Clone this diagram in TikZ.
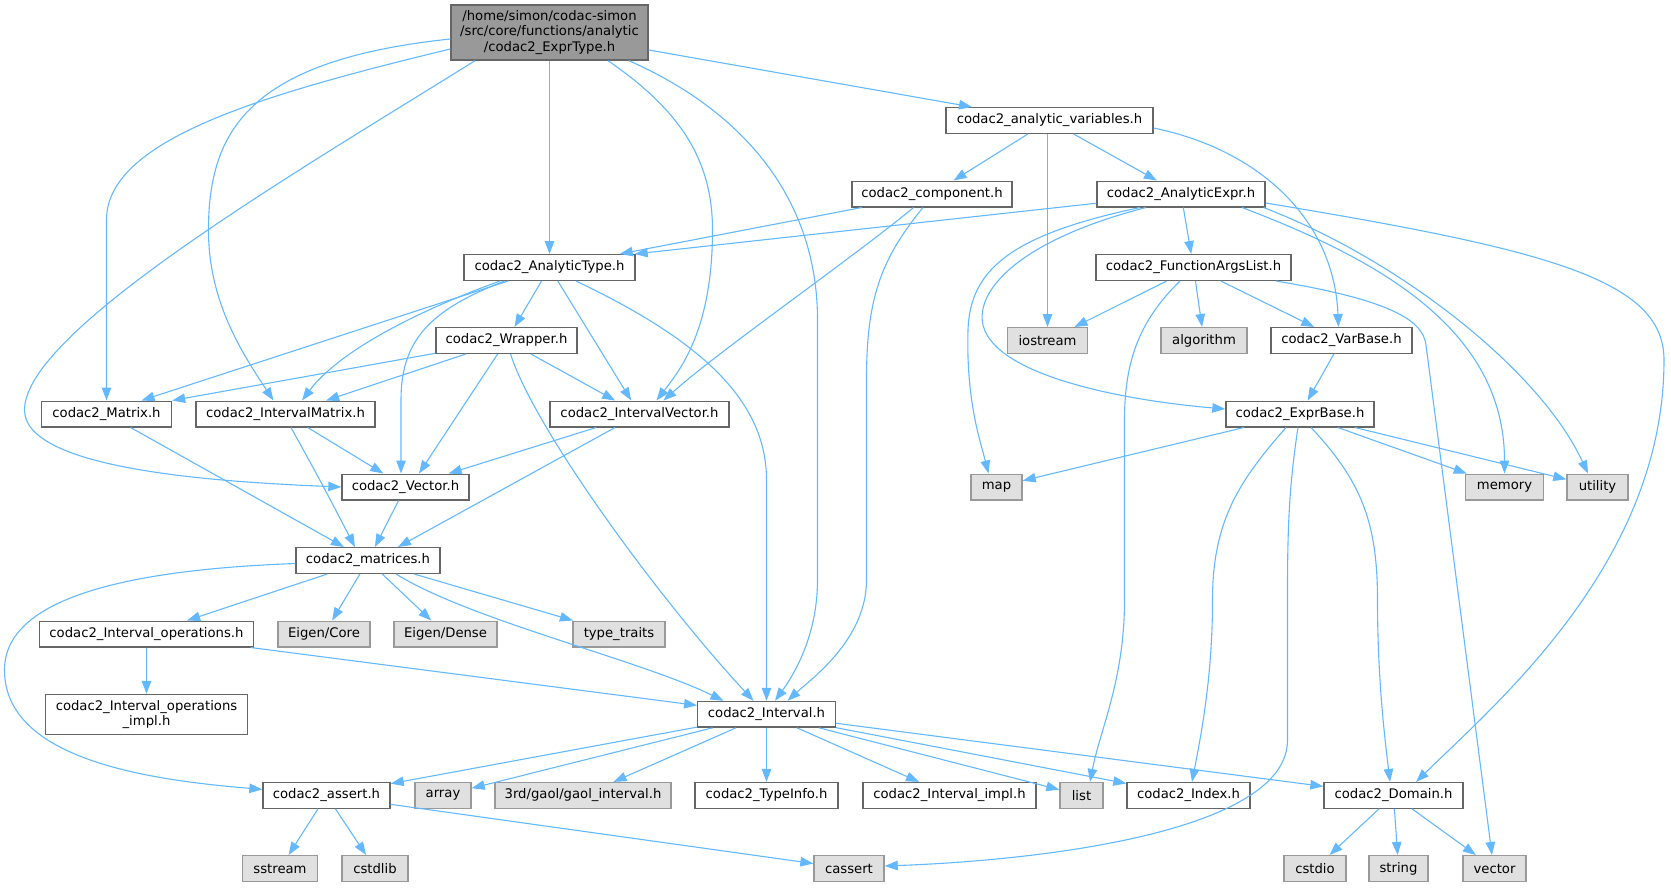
\documentclass[tikz,border=0pt]{standalone}
\usepackage{fontspec}
\setmainfont{DejaVu Sans}
\usetikzlibrary{arrows.meta,calc}
\definecolor{edgeblue}{HTML}{63B8FF}
\definecolor{bordA}{HTML}{666666}
\definecolor{bordB}{HTML}{999999}
\definecolor{fillB}{HTML}{E0E0E0}
\definecolor{rootfill}{HTML}{999999}
\tikzset{
  nd/.style={draw=bordA, fill=white, line width=1.4pt, minimum height=25.6pt, inner sep=0pt,
    font=\fontsize{13.2pt}{15.3pt}\selectfont, text=black},
  ext/.style={nd, draw=bordB, fill=fillB},
  conn/.style={draw=edgeblue, line width=1.1pt, -{Triangle[length=13pt,width=9.5pt]}},
}
\begin{document}
\begin{tikzpicture}[x=1pt,y=-1pt]
\useasboundingbox (0,0) rectangle (1671,887);
% nodes
\node[nd, fill=rootfill, minimum width=197pt, minimum height=55pt, align=center] (root) at (549.5,32.5)
  {/home/simon/codac-simon\\/src/core/functions/analytic\\/codac2\_ExprType.h};
\node[nd, minimum width=207pt] (avars) at (1049.5,120.5) {codac2\_analytic\_variables.h};
\node[nd, minimum width=160pt] (comp) at (932,194) {codac2\_component.h};
\node[nd, minimum width=168pt] (aexpr) at (1181,194) {codac2\_AnalyticExpr.h};
\node[nd, minimum width=171pt] (atype) at (549.5,267.5) {codac2\_AnalyticType.h};
\node[nd, minimum width=195pt] (fargs) at (1193.5,267.5) {codac2\_FunctionArgsList.h};
\node[nd, minimum width=141pt] (wrapper) at (506.5,340.5) {codac2\_Wrapper.h};
\node[ext, minimum width=80pt] (iostream) at (1047.5,340.5) {iostream};
\node[ext, minimum width=86pt] (algorithm) at (1204,340.5) {algorithm};
\node[nd, minimum width=141pt] (varbase) at (1341.5,340.5) {codac2\_VarBase.h};
\node[nd, minimum width=130pt] (matrix) at (106.5,414) {codac2\_Matrix.h};
\node[nd, minimum width=179pt] (imatrix) at (285.5,414) {codac2\_IntervalMatrix.h};
\node[nd, minimum width=179pt] (ivector) at (639.5,414) {codac2\_IntervalVector.h};
\node[nd, minimum width=148pt] (exprbase) at (1300,414) {codac2\_ExprBase.h};
\node[nd, minimum width=127pt] (vech) at (405.5,487) {codac2\_Vector.h};
\node[ext, minimum width=51pt] (map) at (996.5,487) {map};
\node[ext, minimum width=78pt] (memory) at (1504.5,487) {memory};
\node[ext, minimum width=61pt] (utility) at (1597.5,487) {utility};
\node[nd, minimum width=144pt] (matrices) at (368,560.5) {codac2\_matrices.h};
\node[nd, minimum width=214pt] (iops) at (146.5,634) {codac2\_Interval\_operations.h};
\node[ext, minimum width=92pt] (ecore) at (324,634) {Eigen/Core};
\node[ext, minimum width=103pt] (edense) at (445.5,634) {Eigen/Dense};
\node[ext, minimum width=92pt] (ttraits) at (619,634) {type\_traits};
\node[nd, minimum width=202pt, minimum height=40pt, align=center] (iopsimpl) at (146.5,714.5)
  {codac2\_Interval\_operations\\\_impl.h};
\node[nd, minimum width=137.5pt] (interval) at (766.5,714.3) {codac2\_Interval.h};
\node[nd, minimum width=127pt] (assert) at (326.5,795.4) {codac2\_assert.h};
\node[ext, minimum width=56pt] (array) at (443,795.4) {array};
\node[ext, minimum width=176pt] (gaol) at (583,795.4) {3rd/gaol/gaol\_interval.h};
\node[nd, minimum width=143pt] (typeinfo) at (766.5,795.4) {codac2\_TypeInfo.h};
\node[nd, minimum width=173pt] (iimpl) at (949.5,795.4) {codac2\_Interval\_impl.h};
\node[ext, minimum width=43pt] (list) at (1081.5,795.4) {list};
\node[nd, minimum width=123pt] (index) at (1188.5,795.4) {codac2\_Index.h};
\node[nd, minimum width=139pt] (domain) at (1393.5,795.4) {codac2\_Domain.h};
\node[ext, minimum width=75pt] (sstream) at (280,868.5) {sstream};
\node[ext, minimum width=66pt] (cstdlib) at (375,868.5) {cstdlib};
\node[ext, minimum width=70pt] (cassert) at (849,868.5) {cassert};
\node[ext, minimum width=62pt] (cstdio) at (1315,868.5) {cstdio};
\node[ext, minimum width=59pt] (string) at (1398.5,868.5) {string};
\node[ext, minimum width=63pt] (vector) at (1494.5,868.5) {vector};
% root edges
\draw[conn] (root) -- ($(avars.north)+(-77.5,0)$);
\draw[conn] (root) -- (atype);
\draw[conn] ($(root.west)+(0,16.5)$) .. controls (260,95) and (106.5,140) .. (106.5,220) -- (matrix);
\draw[conn] ($(root.west)+(0,6.5)$) .. controls (250,60) and (208.5,130) .. (208.5,230) .. controls (208.5,300) and (240,350) .. ($(imatrix.north)+(-12,0)$);
\draw[conn] ($(root.south)+(-74.5,0)$) .. controls (300,170) and (24.5,330) .. (24.5,410) .. controls (24.5,470) and (220,482) .. (vech.west);
\draw[conn] ($(root.south)+(58.5,0)$) .. controls (680,110) and (712.5,160) .. (712.5,230) .. controls (712.5,330) and (680,370) .. ($(ivector.north)+(17,0)$);
\draw[conn] ($(root.south)+(79.5,0)$) .. controls (745,112) and (817.5,200) .. (817.5,320) -- (817.5,580) .. controls (817.5,640) and (790,680) .. ($(interval.north)+(8.5,0)$);
% analytic variables
\draw[conn] (avars) -- (comp);
\draw[conn] (avars) -- (aexpr);
\draw[conn] (avars.south -| iostream.north) -- (iostream.north);
\draw[conn] ($(avars.east)+(0,7.5)$) .. controls (1260,150) and (1334,220) .. ($(varbase.north)+(-3,0)$);
% component
\draw[conn] (comp) -- (atype);
\draw[conn] ($(comp.south)+(-18.4,0)$) .. controls (850,260) and (720,350) .. ($(ivector.north)+(24,0)$);
\draw[conn] ($(comp.south)+(-9,0)$) .. controls (880,260) and (866.5,300) .. (866.5,380) -- (866.5,580) .. controls (866.5,640) and (810,680) .. ($(interval.north)+(21,0)$);
% analytic expr
\draw[conn] (aexpr) -- ($(atype.north east)+(-1,0)$);
\draw[conn] (aexpr) -- (fargs);
\draw[conn] ($(aexpr.south)+(-41,0)$) .. controls (1010,235) and (970,270) .. (968,330) .. controls (966,400) and (980,440) .. ($(map.north)+(-8,0)$);
\draw[conn] ($(aexpr.south)+(-35,0)$) .. controls (1020,240) and (975,290) .. (983,325) .. controls (995,375) and (1120,400) .. ($(exprbase.west)+(0,-5)$);
\draw[conn] ($(aexpr.south)+(61,0)$) .. controls (1380,260) and (1504.5,330) .. (memory.north);
\draw[conn] ($(aexpr.south)+(82.5,0)$) .. controls (1400,260) and (1540,370) .. ($(utility.north)+(-9.5,0)$);
\draw[conn] ($(aexpr.east)+(0,9)$) .. controls (1550,250) and (1664,280) .. (1664,360) .. controls (1664,560) and (1500,700) .. ($(domain.north)+(22.5,0)$);
% analytic type
\draw[conn] (atype) -- (wrapper);
\draw[conn] (atype) -- ($(matrix.north)+(35,0)$);
\draw[conn] ($(atype.south)+(-49.5,0)$) .. controls (420,310) and (340,350) .. ($(imatrix.north)+(16.5,0)$);
\draw[conn] ($(atype.south)+(-45,0)$) .. controls (430,310) and (401,340) .. (401,400) -- ($(vech.north)+(-4.5,0)$);
\draw[conn] (atype) -- (ivector);
\draw[conn] ($(atype.south)+(26.5,0)$) .. controls (700,340) and (766.5,400) .. (766.5,480) -- (interval);
% wrapper
\draw[conn] (wrapper) -- (matrix.north east);
\draw[conn] (wrapper) -- (imatrix);
\draw[conn] (wrapper) -- ($(vech.north)+(13.5,0)$);
\draw[conn] (wrapper) -- (ivector);
\draw[conn] ($(wrapper.south)+(4,0)$) .. controls (535,430) and (660,600) .. ($(interval.north)+(-13,0)$);
% varbase
\draw[conn] (varbase) -- (exprbase);
% matrix level
\draw[conn] (matrix) -- (matrices);
\draw[conn] (imatrix) -- (vech);
\draw[conn] ($(imatrix.south)+(5.5,0)$) .. controls (320,480) .. ($(matrices.north)+(-13,0)$);
\draw[conn] (ivector) -- (vech);
\draw[conn] (ivector) -- ($(matrices.north)+(30,0)$);
\draw[conn] (vech) -- (matrices);
% function args list
\draw[conn] (fargs) -- (iostream);
\draw[conn] (fargs) -- (algorithm);
\draw[conn] (fargs) -- (varbase);
\draw[conn] ($(fargs.south)+(-13.5,0)$) .. controls (1140,320) and (1124.5,360) .. (1124.5,420) -- (1124.5,600) .. controls (1124.5,680) and (1100,730) .. ($(list.north)+(8.5,0)$);
\draw[conn] ($(fargs.south)+(82.5,0)$) .. controls (1390,300) and (1423,320) .. (1426,345) -- ($(vector.north)+(-2.5,0)$);
% expr base
\draw[conn] (exprbase) -- (map);
\draw[conn] (exprbase) -- (memory);
\draw[conn] (exprbase) -- (utility);
\draw[conn] ($(exprbase.south)+(-14,0)$) .. controls (1240,480) and (1212.5,520) .. (1212.5,600) .. controls (1212.5,680) and (1200,740) .. ($(index.north)+(3.5,0)$);
\draw[conn] ($(exprbase.south)+(-2,0)$) .. controls (1290,480) and (1287.5,520) .. (1287.5,590) -- (1287.5,740) .. controls (1287.5,830) and (1050,860) .. ($(cassert.east)+(0,-2.5)$);
\draw[conn] ($(exprbase.south)+(11,0)$) .. controls (1360,480) and (1377.5,520) .. (1377.5,600) .. controls (1377.5,680) and (1385,740) .. ($(domain.north)+(-3.5,0)$);
% matrices
\draw[conn] (matrices) -- (iops);
\draw[conn] (matrices) -- (ecore);
\draw[conn] (matrices) -- (edense);
\draw[conn] (matrices) -- (ttraits);
\draw[conn] ($(matrices.south)+(28,0)$) .. controls (470,620) and (640,660) .. ($(interval.north)+(-43,0)$);
\draw[conn] ($(matrices.west)+(0,3)$) .. controls (120,570) and (4.5,600) .. (4.5,670) .. controls (4.5,760) and (150,780) .. ($(assert.west)+(0,-6)$);
% interval operations
\draw[conn] (iops) -- (iopsimpl);
\draw[conn] (iops) -- (interval);
% interval
\draw[conn] (interval) -- (assert);
\draw[conn] (interval) -- (array);
\draw[conn] (interval) -- (gaol);
\draw[conn] (interval) -- (typeinfo);
\draw[conn] (interval) -- (iimpl);
\draw[conn] (interval) -- (list);
\draw[conn] (interval) -- (index);
\draw[conn] (interval) -- (domain);
% assert, domain
\draw[conn] (assert) -- (sstream);
\draw[conn] (assert) -- (cstdlib);
\draw[conn] (assert) -- (cassert);
\draw[conn] (domain) -- (cstdio);
\draw[conn] (domain) -- (string);
\draw[conn] (domain) -- (vector);
\end{tikzpicture}
\end{document}
